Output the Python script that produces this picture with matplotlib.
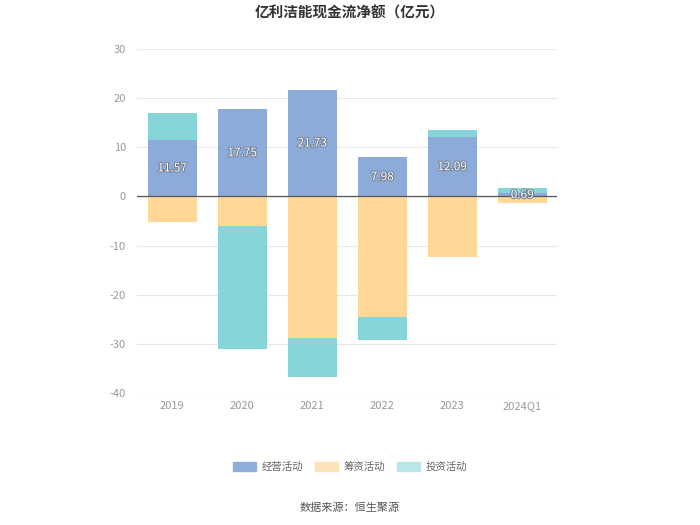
import matplotlib.pyplot as plt
import matplotlib.patheffects as pe
from matplotlib.patches import Patch
import numpy as np

plt.rcParams['font.family'] = ['Noto Sans CJK SC', 'DejaVu Sans']
plt.rcParams['axes.unicode_minus'] = False

years = ['2019', '2020', '2021', '2022', '2023', '2024Q1']
jingying = [11.57, 17.75, 21.73, 7.98, 12.09, 0.69]   # 经营活动
chouzi = [-5.2, -6.1, -28.9, -24.45, -12.4, -1.28]   # 筹资活动
touzi = [5.5, -24.9, -7.8, -4.8, 1.47, 0.94]         # 投资活动

c_blue = '#8cabd9'
c_orange = '#ffd898'
c_teal = '#86d5d8'

fig = plt.figure(figsize=(7, 5.25), dpi=100)
ax = fig.add_axes([0.196, 0.2514, 0.6, 0.6553])

x = np.arange(len(years))
w = 0.7
pos_base = np.zeros(len(years))
neg_base = np.zeros(len(years))
for vals, col in [(jingying, c_blue), (chouzi, c_orange), (touzi, c_teal)]:
    vals = np.array(vals)
    bottoms = np.where(vals >= 0, pos_base, neg_base)
    ax.bar(x, vals, w, bottom=bottoms, color=col, zorder=2)
    pos_base = pos_base + np.where(vals >= 0, vals, 0)
    neg_base = neg_base + np.where(vals < 0, vals, 0)

for i, v in enumerate(jingying):
    ax.text(x[i], v / 2, f'{v:.2f}', ha='center', va='center', color='white',
            fontsize=8.5, zorder=4,
            path_effects=[pe.withStroke(linewidth=1.3, foreground='#6f7a88')])

ax.set_ylim(-40, 30)
ax.set_xlim(-0.5, len(years) - 0.5)
ax.set_yticks(range(-40, 31, 10))
ax.set_xticks(x)
ax.set_xticklabels(years)
ax.grid(axis='y', color='#e8e8e8', linewidth=0.8, zorder=0)
ax.axhline(0, color='#555555', linewidth=0.9, zorder=3)
for s in ax.spines.values():
    s.set_visible(False)
ax.tick_params(length=0, colors='#999999', labelsize=8)
ax.tick_params(axis='y', pad=8)
ax.tick_params(axis='x', pad=6)

fig.text(0.5, 0.977, '亿利洁能现金流净额（亿元）', ha='center', va='center',
         fontsize=10.5, fontweight='bold', color='#333333')

handles = [Patch(color='#8eaedb', label='经营活动'),
           Patch(color='#ffe3b8', label='筹资活动'),
           Patch(color='#b8e7e9', label='投资活动')]
fig.legend(handles=handles, loc='center', bbox_to_anchor=(0.5, 0.11), ncol=3,
           frameon=False, fontsize=7.5, handlelength=2.2, handleheight=1.0,
           columnspacing=1.2, handletextpad=0.5, labelcolor='#666666')

fig.text(0.5, 0.032, '数据来源：恒生聚源', ha='center', va='center',
         fontsize=8, color='#555555')

fig.savefig('out.png', dpi=100, facecolor='white')
